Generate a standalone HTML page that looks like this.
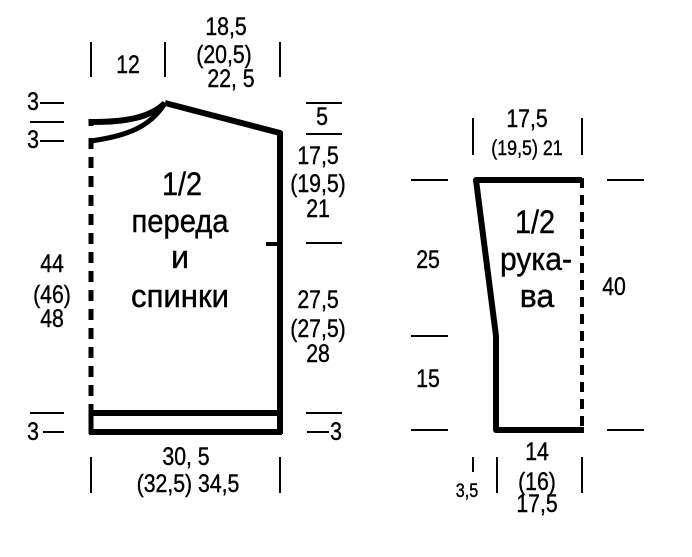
<!DOCTYPE html>
<html><head><meta charset="utf-8"><style>html,body{margin:0;padding:0;background:#fff}svg{display:block}text{font-family:"Liberation Sans",sans-serif;fill:#000;stroke:#000;stroke-width:0.4}</style></head><body>
<svg width="692" height="557" viewBox="0 0 692 557">
<g stroke="#000" fill="none">
<path d="M91,122 C125,122 150,118 165,103" stroke-width="6"/>
<path d="M91,141 C125,136 150,128 165,103" stroke-width="5"/>
<path d="M165,103 L280,133 L280,434" stroke-width="6" stroke-linejoin="round"/>
<line x1="266" y1="244" x2="280" y2="244" stroke-width="4"/>
<line x1="91" y1="119" x2="91" y2="126" stroke-width="5"/>
<line x1="91" y1="138" x2="91" y2="412" stroke-width="5" stroke-dasharray="11,8"/>
<line x1="91" y1="404" x2="91" y2="434" stroke-width="5"/>
<line x1="89" y1="413" x2="280" y2="413" stroke-width="6"/>
<line x1="89" y1="432" x2="282" y2="432" stroke-width="6"/>
<g stroke-width="2">
<line x1="40" y1="103" x2="64" y2="103"/><line x1="30" y1="122" x2="64" y2="122"/><line x1="40" y1="141" x2="64" y2="141"/>
<line x1="30" y1="413" x2="64" y2="413"/><line x1="43" y1="432" x2="64" y2="432"/>
<line x1="306" y1="103" x2="342" y2="103"/><line x1="306" y1="134" x2="342" y2="134"/><line x1="306" y1="243" x2="342" y2="243"/>
<line x1="306" y1="413" x2="342" y2="413"/><line x1="307" y1="432" x2="329" y2="432"/>
<line x1="91" y1="42" x2="91" y2="77"/><line x1="165" y1="42" x2="165" y2="77"/><line x1="280" y1="42" x2="280" y2="77"/>
<line x1="91" y1="457" x2="91" y2="493"/><line x1="280" y1="457" x2="280" y2="493"/>
<line x1="411" y1="180" x2="448" y2="180"/><line x1="607" y1="180" x2="644" y2="180"/>
<line x1="411" y1="336" x2="448" y2="336"/>
<line x1="411" y1="430" x2="448" y2="430"/><line x1="607" y1="430" x2="644" y2="430"/>
<line x1="473" y1="118" x2="473" y2="155"/><line x1="582" y1="118" x2="582" y2="155"/>
<line x1="497" y1="457" x2="497" y2="493"/><line x1="582" y1="457" x2="582" y2="493"/>
<line x1="473" y1="457" x2="473" y2="472"/>
</g>
<path d="M582,180 L476,180 L496,336 L496,430 L584,430" stroke-width="6" stroke-linejoin="round"/>
<line x1="582" y1="178" x2="582" y2="430" stroke-width="4" stroke-dasharray="10,7"/>
</g>
<g font-size="25" text-anchor="middle">
<text transform="translate(128 73) scale(.85 1)">12</text>
<text transform="translate(226 35) scale(.85 1)">18,5</text>
<text transform="translate(224 63) scale(.85 1)">(20,5)</text>
<text transform="translate(231 87) scale(.85 1)">22, 5</text>
<text transform="translate(33 110) scale(.85 1)">3</text>
<text transform="translate(33 148) scale(.85 1)">3</text>
<text transform="translate(33 440) scale(.85 1)">3</text>
<text transform="translate(336 440) scale(.85 1)">3</text>
<text transform="translate(322 125) scale(.85 1)">5</text>
<text transform="translate(318 164) scale(.85 1)">17,5</text>
<text transform="translate(318 192) scale(.85 1)">(19,5)</text>
<text transform="translate(318 217) scale(.85 1)">21</text>
<text transform="translate(52 272) scale(.85 1)">44</text>
<text transform="translate(52 303) scale(.85 1)">(46)</text>
<text transform="translate(52 327) scale(.85 1)">48</text>
<text transform="translate(318 308) scale(.85 1)">27,5</text>
<text transform="translate(318 337) scale(.85 1)">(27,5)</text>
<text transform="translate(318 362) scale(.85 1)">28</text>
<text transform="translate(186 465) scale(.85 1)">30, 5</text>
<text transform="translate(188 492) scale(.85 1)">(32,5)  34,5</text>
<text transform="translate(527 127) scale(.85 1)">17,5</text>
<text transform="translate(527 155) scale(.85 1)" font-size="21">(19,5)  21</text>
<text transform="translate(428 268) scale(.85 1)">25</text>
<text transform="translate(428 387) scale(.85 1)">15</text>
<text transform="translate(614 295) scale(.85 1)">40</text>
<text transform="translate(537 460) scale(.85 1)">14</text>
<text transform="translate(537 490) scale(.85 1)">(16)</text>
<text transform="translate(537 512) scale(.85 1)">17,5</text>
<text transform="translate(467 497) scale(.85 1)" font-size="19">3,5</text>
</g>
<g font-size="32" text-anchor="middle">
<text transform="translate(182 195) scale(.9 1)">1/2</text>
<text x="180" y="232" textLength="97" lengthAdjust="spacingAndGlyphs">переда</text>
<text x="180" y="268">и</text>
<text x="180" y="307" textLength="98" lengthAdjust="spacingAndGlyphs">спинки</text>
<text transform="translate(535 233) scale(.9 1)">1/2</text>
<text x="536" y="270" textLength="72" lengthAdjust="spacingAndGlyphs">рука-</text>
<text x="537" y="307">ва</text>
</g>
</svg>
</body></html>
